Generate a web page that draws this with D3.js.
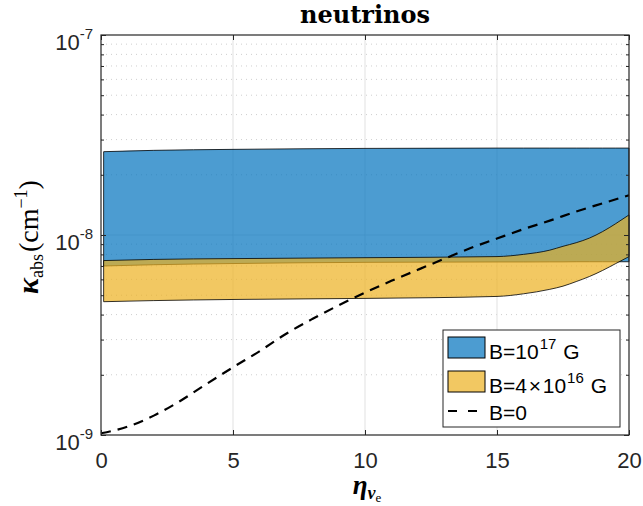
<!DOCTYPE html>
<html>
<head>
<meta charset="utf-8">
<script src="https://cdn.jsdelivr.net/npm/d3@7"></script>
<style>
  html, body { margin: 0; padding: 0; background: #fff; }
  svg { display: block; }
</style>
</head>
<body>
<div id="chart"></div>
<script>
// ---------- data ----------
const xTicks = [0, 5, 10, 15, 20];
const yTickExps = [-9, -8, -7];

const etaBand = [0.1, 2, 5, 10, 15, 16, 17, 17.5, 18, 18.5, 19, 19.5, 20];
const blueTop = [2.61e-8, 2.65e-8, 2.68e-8, 2.71e-8, 2.72e-8, 2.72e-8, 2.72e-8, 2.72e-8, 2.72e-8, 2.72e-8, 2.72e-8, 2.72e-8, 2.72e-8];
const blueBottom = [7.0e-9, 7.1e-9, 7.2e-9, 7.3e-9, 7.33e-9, 7.33e-9, 7.34e-9, 7.34e-9, 7.35e-9, 7.35e-9, 7.35e-9, 7.35e-9, 7.35e-9];
const yellowTop = [7.45e-9, 7.55e-9, 7.62e-9, 7.7e-9, 7.8e-9, 8.0e-9, 8.4e-9, 8.78e-9, 9.15e-9, 9.65e-9, 1.04e-8, 1.14e-8, 1.26e-8];
const yellowBottom = [4.64e-9, 4.7e-9, 4.76e-9, 4.82e-9, 4.93e-9, 5.08e-9, 5.35e-9, 5.55e-9, 5.85e-9, 6.2e-9, 6.65e-9, 7.2e-9, 7.8e-9];

const etaLine = [0, 1, 2, 3, 4, 5, 6, 7, 8, 9, 10, 11, 12, 13, 14, 15, 16, 17, 18, 19, 20];
const kappaB0 = [1.02e-9, 1.10e-9, 1.25e-9, 1.48e-9, 1.80e-9, 2.18e-9, 2.62e-9, 3.2e-9, 3.8e-9, 4.45e-9, 5.15e-9, 5.9e-9, 6.7e-9, 7.6e-9, 8.6e-9, 9.6e-9, 1.07e-8, 1.18e-8, 1.31e-8, 1.44e-8, 1.58e-8];

const legendLabels = [["B=10", "17", "G"], ["B=4\u200A\u00D7\u200A10", "16", "G"], ["B=0", "", ""]];

// ---------- layout ----------
const W = 643, H = 506;
const L = 101, R = 629, T = 35, B = 435;
const axisColor = "#262626";
const sans = "'Liberation Sans', Arial, sans-serif";
const serif = "'Liberation Serif', 'DejaVu Serif', serif";

const svg = d3.select("#chart").append("svg").attr("width", W).attr("height", H);

const x = d3.scaleLinear().domain([0, 20]).range([L, R]);
const y = d3.scaleLog().domain([1e-9, 1e-7]).range([B, T]);

const minorVals = [];
for (let e = -9; e < -7; e++) for (let m = 2; m <= 9; m++) minorVals.push(m * Math.pow(10, e));

// ---------- grid ----------
const grid = svg.append("g");
grid.selectAll("line.mn").data(minorVals).join("line")
  .attr("x1", L).attr("x2", R).attr("y1", d => y(d)).attr("y2", d => y(d))
  .attr("stroke", "#cfcfcf").attr("stroke-width", 1).attr("stroke-dasharray", "1,4");
grid.selectAll("line.mjy").data([1e-8]).join("line")
  .attr("x1", L).attr("x2", R).attr("y1", d => y(d)).attr("y2", d => y(d))
  .attr("stroke", "#e1e1e1").attr("stroke-width", 1);
grid.selectAll("line.mjx").data(xTicks.slice(1, -1)).join("line")
  .attr("x1", d => x(d)).attr("x2", d => x(d)).attr("y1", T).attr("y2", B)
  .attr("stroke", "#e1e1e1").attr("stroke-width", 1);

// ---------- bands ----------
const blueData = etaBand.map((e, i) => ({ e, lo: blueBottom[i], hi: blueTop[i] }));
const yellowData = etaBand.map((e, i) => ({ e, lo: yellowBottom[i], hi: yellowTop[i] }));
const area = d3.area().x(d => x(d.e)).y0(d => y(d.lo)).y1(d => y(d.hi)).curve(d3.curveMonotoneX);

svg.append("path").datum(blueData).attr("d", area)
  .attr("fill", "rgb(0,114,189)").attr("fill-opacity", 0.7)
  .attr("stroke", "#000").attr("stroke-width", 0.8);
svg.append("path").datum(yellowData).attr("d", area)
  .attr("fill", "rgb(237,177,32)").attr("fill-opacity", 0.7)
  .attr("stroke", "#000").attr("stroke-width", 0.8);

// ---------- dashed line ----------
const line = d3.line().x((d, i) => x(etaLine[i])).y(d => y(d)).curve(d3.curveMonotoneX);
svg.append("path").datum(kappaB0).attr("d", line)
  .attr("fill", "none").attr("stroke", "#000").attr("stroke-width", 2.2)
  .attr("stroke-dasharray", "10,7");

// ---------- axes ----------
const ax = svg.append("g").attr("font-family", sans);
const xAxisB = d3.axisBottom(x).tickValues(xTicks).tickSizeInner(-5).tickSizeOuter(0).tickFormat(d3.format("d"));
const gxb = ax.append("g").attr("transform", `translate(0,${B})`).call(xAxisB);
gxb.select(".domain").remove();
gxb.selectAll("line").attr("stroke", axisColor);
gxb.selectAll("text").attr("y", 33).attr("dy", null).attr("font-size", 22).attr("fill", axisColor).attr("font-family", sans);
const xAxisT = d3.axisTop(x).tickValues(xTicks).tickSizeInner(-5).tickSizeOuter(0).tickFormat("");
const gxt = ax.append("g").attr("transform", `translate(0,${T})`).call(xAxisT);
gxt.select(".domain").remove();
gxt.selectAll("line").attr("stroke", axisColor);
const yMajors = yTickExps.map(e => Math.pow(10, e));
const yAxisL = d3.axisLeft(y).tickValues(yMajors).tickSizeInner(-5).tickSizeOuter(0).tickFormat("");
const gyl = ax.append("g").attr("transform", `translate(${L},0)`).call(yAxisL);
gyl.select(".domain").remove();
gyl.selectAll("line").attr("stroke", axisColor);
const yAxisLm = d3.axisLeft(y).tickValues(minorVals).tickSizeInner(-3).tickSizeOuter(0).tickFormat("");
const gylm = ax.append("g").attr("transform", `translate(${L},0)`).call(yAxisLm);
gylm.select(".domain").remove();
gylm.selectAll("line").attr("stroke", axisColor);
const yAxisR = d3.axisRight(y).tickValues(yMajors).tickSizeInner(-5).tickSizeOuter(0).tickFormat("");
const gyr = ax.append("g").attr("transform", `translate(${R},0)`).call(yAxisR);
gyr.select(".domain").remove();
gyr.selectAll("line").attr("stroke", axisColor);
const yAxisRm = d3.axisRight(y).tickValues(minorVals).tickSizeInner(-3).tickSizeOuter(0).tickFormat("");
const gyrm = ax.append("g").attr("transform", `translate(${R},0)`).call(yAxisRm);
gyrm.select(".domain").remove();
gyrm.selectAll("line").attr("stroke", axisColor);

svg.append("rect").attr("x", L).attr("y", T).attr("width", R - L).attr("height", B - T)
  .attr("fill", "none").attr("stroke", axisColor).attr("stroke-width", 1.2);

// y tick labels with superscripts
const ylab = svg.append("g").attr("font-family", sans).attr("fill", axisColor);
yTickExps.forEach(e => {
  const t = ylab.append("text").attr("x", 93).attr("y", y(Math.pow(10, e)) + 15)
    .attr("text-anchor", "end").attr("font-size", 22);
  t.append("tspan").text("10");
  t.append("tspan").attr("font-size", 15).attr("dy", -11).text("-" + Math.abs(e));
});

// ---------- title ----------
svg.append("text").attr("x", (L + R) / 2).attr("y", 23).attr("text-anchor", "middle")
  .attr("font-family", "'DejaVu Serif', serif").attr("font-weight", "bold").attr("font-size", 24)
  .attr("fill", "#000").text("neutrinos");

// ---------- axis titles ----------
const xt = svg.append("text").attr("x", (L + R) / 2 + 2).attr("y", 494).attr("text-anchor", "middle")
  .attr("font-family", serif).attr("fill", "#000");
xt.append("tspan").attr("font-size", 27).attr("font-style", "italic").attr("font-weight", "bold").text("η");
xt.append("tspan").attr("font-size", 18).attr("font-style", "italic").attr("font-weight", "bold").attr("dy", 5).text("ν");
xt.append("tspan").attr("font-size", 13).attr("dy", 3).text("e");

const yt = svg.append("text").attr("transform", `translate(38,237) rotate(-90)`).attr("text-anchor", "middle")
  .attr("font-family", serif).attr("fill", "#000");
yt.append("tspan").attr("font-size", 30).attr("font-style", "italic").attr("font-weight", "bold").text("κ");
yt.append("tspan").attr("font-size", 18).attr("dy", 5).text("abs");
yt.append("tspan").attr("font-size", 28).attr("dy", -5).attr("dx", 2).text("(cm");
yt.append("tspan").attr("font-size", 18).attr("dy", -11).text("\u22121");
yt.append("tspan").attr("font-size", 28).attr("dy", 11).text(")");

// ---------- legend ----------
const lg = svg.append("g");
lg.append("rect").attr("x", 443).attr("y", 330).attr("width", 177).attr("height", 97)
  .attr("fill", "#fff").attr("stroke", axisColor).attr("stroke-width", 1);
const swatchFills = ["rgb(0,114,189)", "rgb(237,177,32)"];
swatchFills.forEach((f, i) => {
  lg.append("rect").attr("x", 448).attr("y", 337 + i * 34).attr("width", 37).attr("height", 21)
    .attr("fill", f).attr("fill-opacity", 0.7).attr("stroke", "#000").attr("stroke-width", 1);
});
lg.append("line").attr("x1", 448).attr("x2", 477).attr("y1", 411).attr("y2", 411)
  .attr("stroke", "#000").attr("stroke-width", 2.2).attr("stroke-dasharray", "9,11");
const baselines = [359, 393, 420];
legendLabels.forEach((lab, i) => {
  const t = lg.append("text").attr("x", 489).attr("y", baselines[i])
    .attr("font-family", sans).attr("font-size", 21).attr("fill", "#000");
  t.append("tspan").text(lab[0]);
  if (lab[1]) {
    t.append("tspan").attr("font-size", 15).attr("dy", -10).attr("dx", 1).text(lab[1]);
    t.append("tspan").attr("dy", 10).attr("dx", 7).text(lab[2]);
  }
});
</script>
</body>
</html>
